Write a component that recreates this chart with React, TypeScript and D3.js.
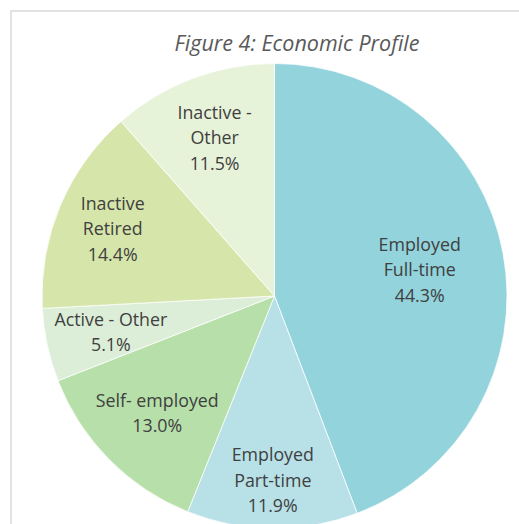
import React from "react";
import * as d3 from "d3";

const categories = [
  "Employed\nFull-time",
  "Employed\nPart-time",
  "Self- employed",
  "Active - Other",
  "Inactive\nRetired",
  "Inactive -\nOther",
];
const values = [44.3, 11.9, 13.0, 5.1, 14.4, 11.5];
const colors = ["#92D3DC", "#B7E1E7", "#B7DFA9", "#DCEED8", "#D6E6AB", "#E7F3D9"];
// label distance from centre, as a fraction of the radius (Excel best-fit placement)
const labelRadiusFactor = [0.635, 0.79, 0.71, 0.72, 0.755, 0.73];
const title = "Figure 4: Economic Profile";

const W = 519;
const H = 524;
const cx = 274.5;
const cy = 296;
const R = 232.5;

export default function App() {
  const pie = d3
    .pie<number>()
    .sort(null)
    .value((d) => d)
    .startAngle(0)
    .endAngle(2 * Math.PI);
  const arcs = pie(values);
  const arcGen = d3.arc<d3.PieArcDatum<number>>().innerRadius(0).outerRadius(R);
  const fontSize = 17.8;
  const lh = 25.5;
  const font = "'Open Sans', sans-serif";

  return (
    <svg
      width={W}
      height={H}
      style={{ position: "absolute", left: 0, top: 0, background: "#fff" }}
    >
      <rect x={0} y={0} width={W} height={H} fill="#fff" />
      <rect
        x={11}
        y={11}
        width={W + 20}
        height={H + 20}
        fill="#fff"
        stroke="#d9d9d9"
        strokeWidth={1.5}
      />
      <text
        x={297}
        y={51}
        textAnchor="middle"
        fontFamily={font}
        fontStyle="italic"
        fontSize={21.5}
        fill="#595959"
      >
        {title}
      </text>
      <g transform={`translate(${cx},${cy})`}>
        {arcs.map((a, i) => (
          <path
            key={i}
            d={arcGen(a) || ""}
            fill={colors[i]}
            stroke="#fff"
            strokeWidth={0.75}
          />
        ))}
        {arcs.map((a, i) => {
          const mid = (a.startAngle + a.endAngle) / 2;
          const r = R * labelRadiusFactor[i];
          const x = r * Math.sin(mid);
          const y = -r * Math.cos(mid);
          const lines = [...categories[i].split("\n"), values[i].toFixed(1) + "%"];
          const n = lines.length;
          return (
            <text
              key={"l" + i}
              x={x}
              y={y}
              textAnchor="middle"
              fontFamily={font}
              fontSize={fontSize}
              fill="#404040"
            >
              {lines.map((ln, j) => (
                <tspan
                  key={j}
                  x={x}
                  y={y + (j - (n - 1) / 2) * lh + fontSize * 0.4}
                >
                  {ln}
                </tspan>
              ))}
            </text>
          );
        })}
      </g>
    </svg>
  );
}
